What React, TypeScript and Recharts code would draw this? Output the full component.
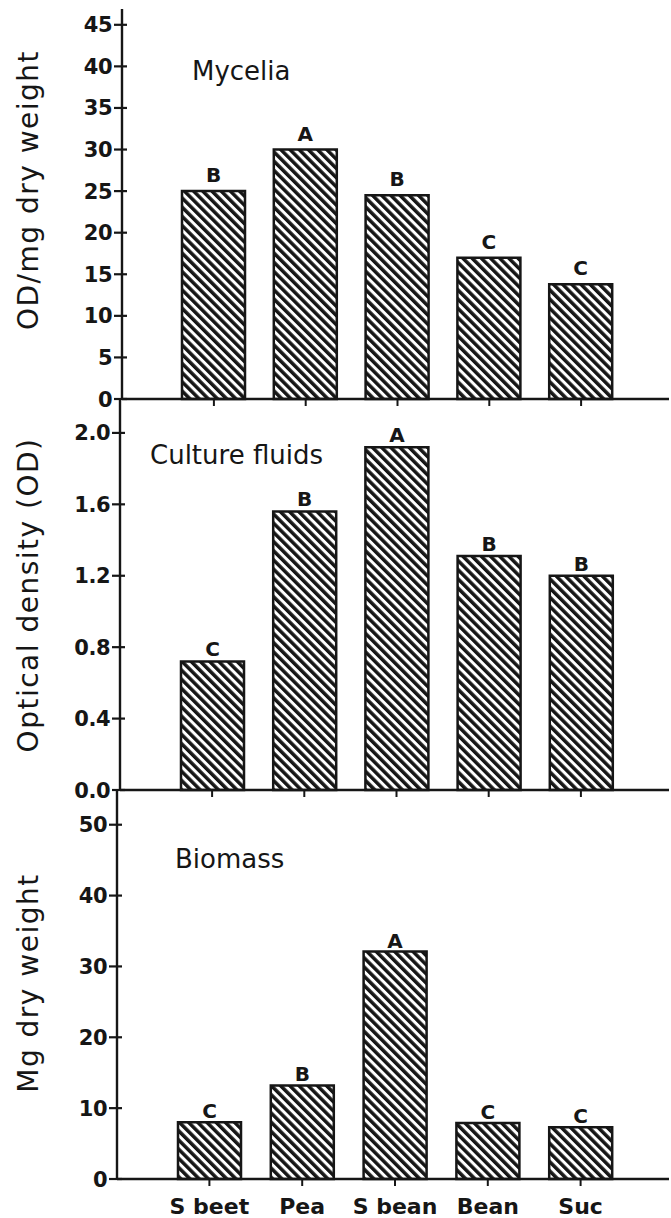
import { Bar, BarChart, LabelList, XAxis, YAxis } from "recharts"

const categories = ["S beet", "Pea", "S bean", "Bean", "Suc"]

const myceliaValues = [25, 30, 24.5, 17, 13.8]
const myceliaLetters = ["B", "A", "B", "C", "C"]
const myceliaTicks = [0, 5, 10, 15, 20, 25, 30, 35, 40, 45]

const fluidValues = [0.72, 1.56, 1.92, 1.31, 1.2]
const fluidLetters = ["C", "B", "A", "B", "B"]
const fluidTicks = [0, 0.4, 0.8, 1.2, 1.6, 2.0]

const biomassValues = [8, 13.2, 32.1, 7.9, 7.3]
const biomassLetters = ["C", "B", "A", "C", "C"]
const biomassTicks = [0, 10, 20, 30, 40, 50]

const ink = "#161616"
const font = "'DejaVu Sans', sans-serif"

function YTick({ x, y, payload, decimals }: any) {
  return (
    <g>
      <line x1={x - 8} x2={x + 5} y1={y} y2={y} stroke={ink} strokeWidth={2.2} />
      <text
        x={x - 10}
        y={y}
        dy={7.5}
        textAnchor="end"
        fontFamily={font}
        fontWeight="bold"
        fontSize={21}
        letterSpacing={-0.5}
        fill={ink}
      >
        {Number(payload.value).toFixed(decimals)}
      </text>
    </g>
  )
}

function XTick({ x, y, payload, show }: any) {
  if (!show) return <g />
  return (
    <text
      x={x}
      y={y + 26}
      textAnchor="middle"
      fontFamily={font}
      fontWeight="bold"
      fontSize={22}
      fill={ink}
    >
      {payload.value}
    </text>
  )
}

type PanelProps = {
  top: number
  height: number
  marginTop: number
  xAxisHeight: number
  axisX: number
  values: number[]
  letters: string[]
  ticks: number[]
  domainMax: number
  decimals: number
  title: string
  titleX: number
  titleY: number
  yLabel: string
  yLabelY: number
  letterOffset: number
  showCategories?: boolean
  showTopLine?: boolean
  patternId: string
}

function Panel(p: PanelProps) {
  const data = categories.map((name, i) => ({
    name,
    value: p.values[i],
    letter: p.letters[i],
  }))
  return (
    <div style={{ position: "absolute", left: 0, top: p.top }}>
      <BarChart
        width={671}
        height={p.height}
        data={data}
        margin={{ top: p.marginTop, right: 2, bottom: 0, left: 0 }}
        barSize={63}
      >
        <defs>
          <pattern
            id={p.patternId}
            patternUnits="userSpaceOnUse"
            width={6.5}
            height={6.5}
            patternTransform="rotate(-45)"
          >
            <rect width={6.5} height={6.5} fill="#fff" />
            <rect width={3.5} height={6.5} fill={ink} />
          </pattern>
        </defs>
        <XAxis
          dataKey="name"
          type="category"
          interval={0}
          height={p.xAxisHeight}
          padding={{ left: 46, right: 42 }}
          axisLine={{ stroke: ink, strokeWidth: 2.6 }}
          tickLine={{ stroke: ink, strokeWidth: 2 }}
          tickSize={7}
          tickMargin={2}
          tick={<XTick show={p.showCategories} />}
        />
        {p.showTopLine && (
          <XAxis
            xAxisId="top"
            dataKey="name"
            orientation="top"
            height={0}
            tick={false}
            tickLine={false}
            axisLine={{ stroke: ink, strokeWidth: 2.2 }}
          />
        )}
        <YAxis
          type="number"
          domain={[0, p.domainMax]}
          ticks={p.ticks}
          interval={0}
          width={p.axisX}
          tickSize={0}
          tickMargin={0}
          tickLine={false}
          axisLine={{ stroke: ink, strokeWidth: 2.4 }}
          tick={<YTick decimals={p.decimals} />}
        />
        <YAxis
          yAxisId="right"
          orientation="right"
          type="number"
          domain={[0, p.domainMax]}
          width={0}
          tick={false}
          tickLine={false}
          axisLine={{ stroke: ink, strokeWidth: 2.2 }}
        />
        <Bar
          dataKey="value"
          fill={`url(#${p.patternId})`}
          stroke={ink}
          strokeWidth={2.5}
          isAnimationActive={false}
        >
          <LabelList
            dataKey="letter"
            position="top"
            offset={p.letterOffset}
            fill={ink}
            fontFamily={font}
            fontWeight="bold"
            fontSize={20}
          />
        </Bar>
        <text
          x={p.titleX}
          y={p.titleY}
          fontFamily={font}
          fontSize={26}
          fill={ink}
        >
          {p.title}
        </text>
        <text
          x={38}
          y={p.yLabelY}
          transform={`rotate(-90, 38, ${p.yLabelY})`}
          textAnchor="middle"
          fontFamily={font}
          fontSize={28}
          letterSpacing={1.5}
          fill={ink}
        >
          {p.yLabel}
        </text>
      </BarChart>
    </div>
  )
}

export default function App() {
  return (
    <div
      style={{
        position: "absolute",
        left: 0,
        top: 0,
        width: 671,
        height: 1218,
        background: "#fff",
      }}
    >
      <Panel
        top={0}
        height={420}
        marginTop={9}
        xAxisHeight={21}
        axisX={122}
        values={myceliaValues}
        letters={myceliaLetters}
        ticks={myceliaTicks}
        domainMax={46.9}
        decimals={0}
        title="Mycelia"
        titleX={192}
        titleY={80}
        yLabel="OD/mg dry weight"
        yLabelY={190}
        letterOffset={9}
        showTopLine
        patternId="hatch1"
      />
      <Panel
        top={390}
        height={420}
        marginTop={9}
        xAxisHeight={20}
        axisX={120}
        values={fluidValues}
        letters={fluidLetters}
        ticks={fluidTicks}
        domainMax={2.19}
        decimals={1}
        title="Culture fluids"
        titleX={150}
        titleY={74}
        yLabel="Optical density (OD)"
        yLabelY={205}
        letterOffset={5}
        patternId="hatch2"
      />
      <Panel
        top={780}
        height={438}
        marginTop={10}
        xAxisHeight={39}
        axisX={117}
        values={biomassValues}
        letters={biomassLetters}
        ticks={biomassTicks}
        domainMax={54.9}
        decimals={0}
        title="Biomass"
        titleX={175}
        titleY={88}
        yLabel="Mg dry weight"
        yLabelY={203}
        letterOffset={4}
        showCategories
        patternId="hatch3"
      />
    </div>
  )
}
